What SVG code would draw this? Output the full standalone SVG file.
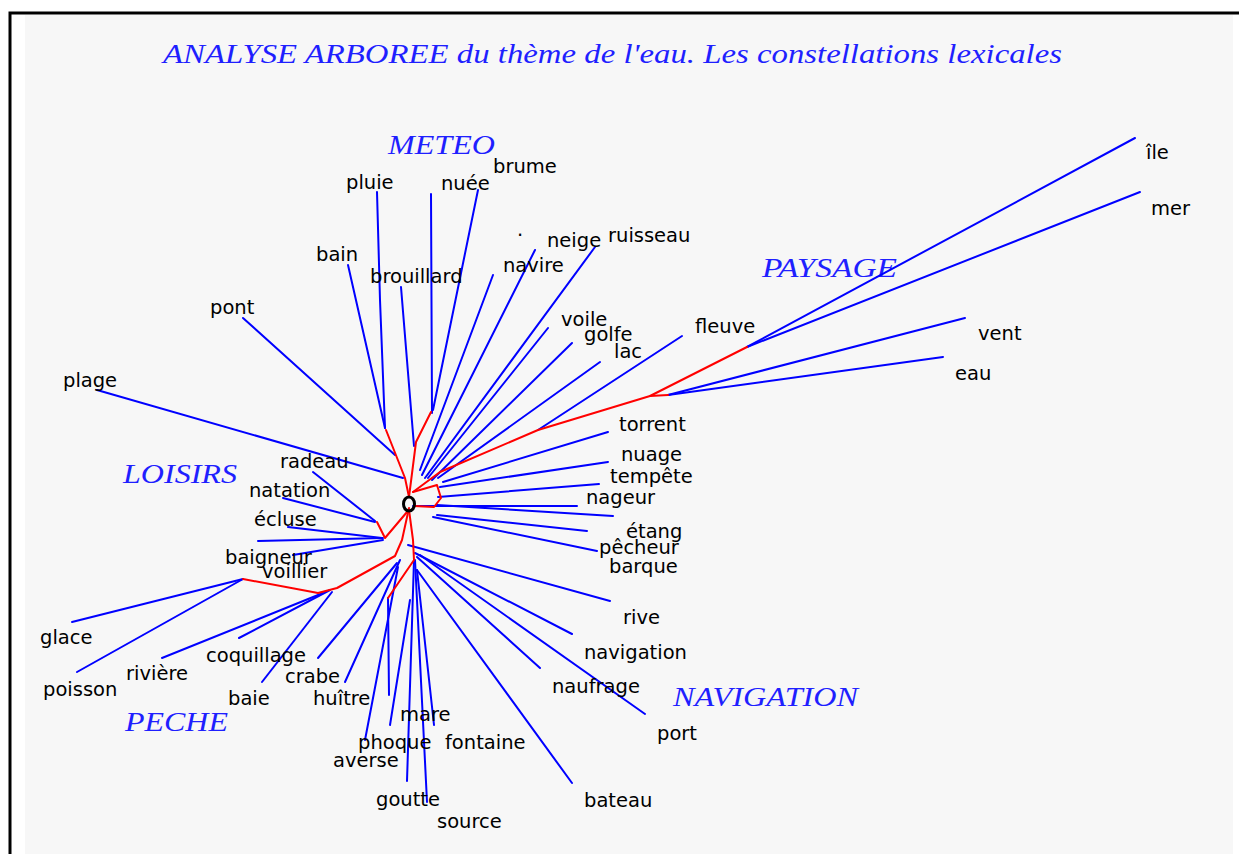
<svg xmlns="http://www.w3.org/2000/svg" width="1239" height="854" viewBox="0 0 1239 854">
<style>
.w{font-family:"DejaVu Sans","Liberation Sans",sans-serif;font-size:19.5px;fill:#000}
.c{font-family:"Liberation Serif","DejaVu Serif",serif;font-style:italic;font-size:27px;fill:#1f1fff}
.b{fill:none;stroke:#0000ff;stroke-width:2;stroke-linecap:round;stroke-linejoin:round}
.r{fill:none;stroke:#ff0000;stroke-width:2;stroke-linecap:round;stroke-linejoin:round}
</style>
<rect x="0" y="0" width="1239" height="854" fill="#ffffff"/>
<rect x="25" y="15" width="1208" height="839" fill="#f7f7f7"/>
<path d="M10,854 V13 H1239" fill="none" stroke="#000" stroke-width="3"/>
<g id="title"><text class="c" x="163" y="63" font-size="29" textLength="899" lengthAdjust="spacingAndGlyphs">ANALYSE ARBOREE du thème de l'eau. Les constellations lexicales</text></g>
<g id="categories">
<text class="c" x="388" y="154" textLength="107" lengthAdjust="spacingAndGlyphs">METEO</text>
<text class="c" x="762" y="277" textLength="135" lengthAdjust="spacingAndGlyphs">PAYSAGE</text>
<text class="c" x="123" y="483" textLength="114" lengthAdjust="spacingAndGlyphs">LOISIRS</text>
<text class="c" x="125" y="731" textLength="103" lengthAdjust="spacingAndGlyphs">PECHE</text>
<text class="c" x="673" y="706" textLength="185" lengthAdjust="spacingAndGlyphs">NAVIGATION</text>
</g>
<g id="connectors">
<g class="b">
<path d="M377,192 L380,300 L385,428"/>
<path d="M348,265 L385,428"/>
<path d="M431,194 L432,413"/>
<path d="M478,190 L433,410"/>
<path d="M401,287 L414,446"/>
<path d="M493,275 L420,470"/>
<path d="M535,250 L422,475"/>
<path d="M595,247 L425,478"/>
<path d="M548,328 L428,478"/>
<path d="M572,343 L432,480"/>
<path d="M600,362 L438,478"/>
<path d="M538,430 L682,336"/>
<path d="M747,347 L1135,138"/>
<path d="M747,347 L1140,192"/>
<path d="M668,395 L965,318"/>
<path d="M668,395 L943,357"/>
<path d="M443,482 L608,432"/>
<path d="M440,487 L608,462"/>
<path d="M438,497 L599,484"/>
<path d="M413,506 L577,506"/>
<path d="M437,505 L613,516"/>
<path d="M437,515 L587,531"/>
<path d="M433,517 L597,551"/>
<path d="M408,545 L610,601"/>
<path d="M415,553 L572,634"/>
<path d="M417,557 L540,668"/>
<path d="M420,555 L645,714"/>
<path d="M417,570 L572,783"/>
<path d="M417,570 L434,725"/>
<path d="M415,560 L427,802"/>
<path d="M414,560 L407,781"/>
<path d="M410,600 L390,725"/>
<path d="M388,598 L389,695"/>
<path d="M398,567 L365,740"/>
<path d="M400,560 L345,682"/>
<path d="M397,563 L318,658"/>
<path d="M332,592 L262,682"/>
<path d="M330,590 L239,638"/>
<path d="M323,593 L162,658"/>
<path d="M243,579 L72,622"/>
<path d="M243,579 L77,672"/>
<path d="M97,390 L403,478"/>
<path d="M243,318 L395,455"/>
<path d="M313,472 L375,521"/>
<path d="M283,498 L375,522"/>
<path d="M288,527 L382,538"/>
<path d="M258,541 L383,538"/>
<path d="M293,555 L383,540"/>
</g>
<g class="r">
<path d="M409,497 L405,478 L386,430"/>
<path d="M409,497 L416,442 L431,412"/>
<path d="M413,492 L440,472 L538,430 L650,396 L747,347"/>
<path d="M650,396 L668,395"/>
<path d="M413,492 L437,485 L441,498 L434,507 L414,506"/>
<path d="M407,512 L385,538 L377,522"/>
<path d="M409,508 L402,540 L395,556 L337,588 L318,593 L243,579"/>
<path d="M409,510 L413,540 L414,560 L388,598"/>
</g>
</g>
<g id="root"><ellipse cx="409" cy="504" rx="5.5" ry="7" fill="none" stroke="#000" stroke-width="3"/></g>
<g id="nodes">
<g id="n-pluie"><text class="w" x="346" y="189">pluie</text></g>
<g id="n-nuee"><text class="w" x="441" y="190">nuée</text></g>
<g id="n-brume"><text class="w" x="493" y="173">brume</text></g>
<g id="n-dot"><text class="w" x="517" y="236">.</text></g>
<g id="n-neige"><text class="w" x="547" y="247">neige</text></g>
<g id="n-ruisseau"><text class="w" x="608" y="242">ruisseau</text></g>
<g id="n-bain"><text class="w" x="316" y="261">bain</text></g>
<g id="n-brouillard"><text class="w" x="370" y="283">brouillard</text></g>
<g id="n-navire"><text class="w" x="503" y="272">navire</text></g>
<g id="n-pont"><text class="w" x="210" y="314">pont</text></g>
<g id="n-voile"><text class="w" x="561" y="326">voile</text></g>
<g id="n-golfe"><text class="w" x="584" y="341">golfe</text></g>
<g id="n-lac"><text class="w" x="614" y="358">lac</text></g>
<g id="n-fleuve"><text class="w" x="695" y="333">fleuve</text></g>
<g id="n-plage"><text class="w" x="63" y="387">plage</text></g>
<g id="n-torrent"><text class="w" x="619" y="431">torrent</text></g>
<g id="n-nuage"><text class="w" x="621" y="461">nuage</text></g>
<g id="n-tempete"><text class="w" x="610" y="483">tempête</text></g>
<g id="n-nageur"><text class="w" x="586" y="504">nageur</text></g>
<g id="n-etang"><text class="w" x="626" y="538">étang</text></g>
<g id="n-pecheur"><text class="w" x="599" y="554">pêcheur</text></g>
<g id="n-barque"><text class="w" x="609" y="573">barque</text></g>
<g id="n-radeau"><text class="w" x="280" y="468">radeau</text></g>
<g id="n-natation"><text class="w" x="249" y="497">natation</text></g>
<g id="n-ecluse"><text class="w" x="254" y="526">écluse</text></g>
<g id="n-baigneur"><text class="w" x="225" y="564">baigneur</text></g>
<g id="n-voillier"><text class="w" x="262" y="578">voillier</text></g>
<g id="n-glace"><text class="w" x="40" y="644">glace</text></g>
<g id="n-poisson"><text class="w" x="43" y="696">poisson</text></g>
<g id="n-riviere"><text class="w" x="126" y="680">rivière</text></g>
<g id="n-coquillage"><text class="w" x="206" y="662">coquillage</text></g>
<g id="n-baie"><text class="w" x="228" y="705">baie</text></g>
<g id="n-crabe"><text class="w" x="285" y="683">crabe</text></g>
<g id="n-huitre"><text class="w" x="313" y="705">huître</text></g>
<g id="n-mare"><text class="w" x="400" y="721">mare</text></g>
<g id="n-phoque"><text class="w" x="358" y="749">phoque</text></g>
<g id="n-averse"><text class="w" x="333" y="767">averse</text></g>
<g id="n-fontaine"><text class="w" x="445" y="749">fontaine</text></g>
<g id="n-goutte"><text class="w" x="376" y="806">goutte</text></g>
<g id="n-source"><text class="w" x="437" y="828">source</text></g>
<g id="n-bateau"><text class="w" x="584" y="807">bateau</text></g>
<g id="n-rive"><text class="w" x="623" y="624">rive</text></g>
<g id="n-navigation"><text class="w" x="584" y="659">navigation</text></g>
<g id="n-naufrage"><text class="w" x="552" y="693">naufrage</text></g>
<g id="n-port"><text class="w" x="657" y="740">port</text></g>
<g id="n-ile"><text class="w" x="1146" y="159">île</text></g>
<g id="n-mer"><text class="w" x="1151" y="215">mer</text></g>
<g id="n-vent"><text class="w" x="978" y="340">vent</text></g>
<g id="n-eau"><text class="w" x="955" y="380">eau</text></g>
</g>
</svg>
